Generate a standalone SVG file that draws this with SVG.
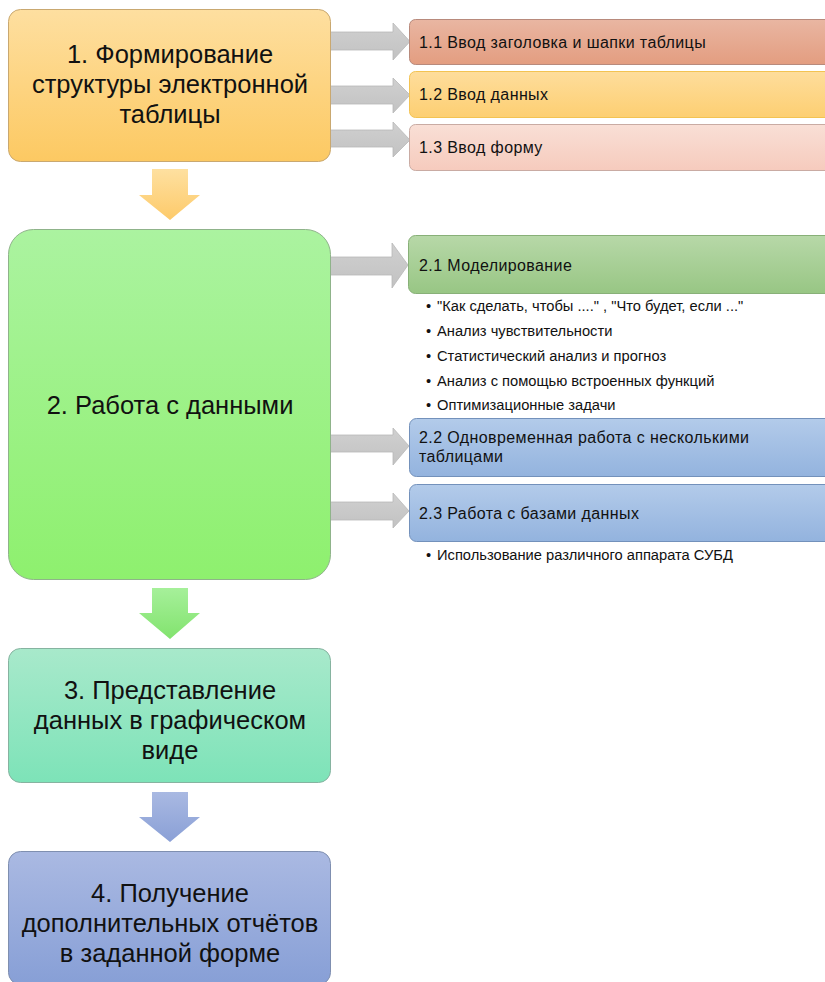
<svg xmlns="http://www.w3.org/2000/svg" width="825" height="982" viewBox="0 0 825 982">
<defs>
<linearGradient id="gOr" x1="0" y1="0" x2="0" y2="1"><stop offset="0" stop-color="#fedfa0"/><stop offset="1" stop-color="#fcc962"/></linearGradient>
<linearGradient id="gGr" x1="0" y1="0" x2="0" y2="1"><stop offset="0" stop-color="#abf3a0"/><stop offset="1" stop-color="#8ef06e"/></linearGradient>
<linearGradient id="gTe" x1="0" y1="0" x2="0" y2="1"><stop offset="0" stop-color="#a8e9cb"/><stop offset="1" stop-color="#7de3b8"/></linearGradient>
<linearGradient id="gBl" x1="0" y1="0" x2="0" y2="1"><stop offset="0" stop-color="#aab9e2"/><stop offset="1" stop-color="#879fd6"/></linearGradient>
<linearGradient id="g11" x1="0" y1="0" x2="0" y2="1"><stop offset="0" stop-color="#e9b6a2"/><stop offset="1" stop-color="#e39d80"/></linearGradient>
<linearGradient id="g12" x1="0" y1="0" x2="0" y2="1"><stop offset="0" stop-color="#fedd9c"/><stop offset="1" stop-color="#fdcf72"/></linearGradient>
<linearGradient id="g13" x1="0" y1="0" x2="0" y2="1"><stop offset="0" stop-color="#f9dfd6"/><stop offset="1" stop-color="#f6cbbd"/></linearGradient>
<linearGradient id="g21" x1="0" y1="0" x2="0" y2="1"><stop offset="0" stop-color="#b7d8a8"/><stop offset="1" stop-color="#98c684"/></linearGradient>
<linearGradient id="gLb" x1="0" y1="0" x2="0" y2="1"><stop offset="0" stop-color="#b3cbea"/><stop offset="1" stop-color="#93b3de"/></linearGradient>
<linearGradient id="gGray" x1="0" y1="0" x2="0" y2="1"><stop offset="0" stop-color="#d0d0d0"/><stop offset="1" stop-color="#c2c2c2"/></linearGradient>
<linearGradient id="aOr" x1="0" y1="0" x2="0" y2="1"><stop offset="0" stop-color="#fee0a0"/><stop offset="1" stop-color="#fdca6a"/></linearGradient>
<linearGradient id="aGr" x1="0" y1="0" x2="0" y2="1"><stop offset="0" stop-color="#a6f09a"/><stop offset="1" stop-color="#82e36e"/></linearGradient>
<linearGradient id="aBl" x1="0" y1="0" x2="0" y2="1"><stop offset="0" stop-color="#a9b9e2"/><stop offset="1" stop-color="#8aa0d6"/></linearGradient>
</defs>
<style>
text{font-family:"Liberation Sans",Arial,sans-serif;fill:#111;}
.big{font-size:25.5px;text-anchor:middle;}
.hd{font-size:16px;letter-spacing:0.4px;}
.sm{font-size:14.7px;}
.garrow{fill:url(#gGray);stroke:#b8b8b8;stroke-width:0.8;}
</style>
<g id="connectors">
<path class="garrow" d="M330,32 H393 V23 L410,41.5 L393,60 V50 H330 Z"/>
<path class="garrow" d="M330,86 H393 V78 L410,95 L393,113 V104 H330 Z"/>
<path class="garrow" d="M330,130 H393 V122 L410,140 L393,157 V147 H330 Z"/>
<path class="garrow" d="M330,257 H392 V243 L408,265 L392,288 V275 H330 Z"/>
<path class="garrow" d="M330,435 H393 V428 L409,446 L393,465 V452 H330 Z"/>
<path class="garrow" d="M330,502 H393 V493 L409,511 L393,528 V520 H330 Z"/>
<path d="M152,169 H188 V195 H200 L170,220 L139,195 H152 Z" fill="url(#aOr)"/>
<path d="M152,588 H188 V613 H200 L170,639 L139,613 H152 Z" fill="url(#aGr)"/>
<path d="M152,792 H188 V817 H200 L170,842 L139,817 H152 Z" fill="url(#aBl)"/>
</g>
<g id="n1">
<rect x="8.5" y="9.5" width="322" height="152" rx="12" fill="url(#gOr)" stroke="#c9a870"/>
<text class="big" x="170" y="63">1. Формирование</text>
<text class="big" x="170" y="93">структуры электронной</text>
<text class="big" x="170" y="123">таблицы</text>
</g>
<g id="n11">
<rect x="409.5" y="19.5" width="430" height="45" rx="6" fill="url(#g11)" stroke="#b88a7c"/>
<text class="hd" x="419" y="48">1.1 Ввод заголовка и шапки таблицы</text>
</g>
<g id="n12">
<rect x="409.5" y="71.5" width="430" height="46" rx="6" fill="url(#g12)" stroke="#f3c352"/>
<text class="hd" x="419" y="100">1.2 Ввод данных</text>
</g>
<g id="n13">
<rect x="409.5" y="124.5" width="430" height="46" rx="6" fill="url(#g13)" stroke="#c9aba3"/>
<text class="hd" x="419" y="153">1.3 Ввод форму</text>
</g>
<g id="n2">
<rect x="8.5" y="229.5" width="322" height="350" rx="25" fill="url(#gGr)" stroke="#8fb38a"/>
<text class="big" x="170" y="414">2. Работа с данными</text>
</g>
<g id="n21">
<rect x="408.5" y="235.5" width="430" height="58" rx="7" fill="url(#g21)" stroke="#88b078"/>
<text class="hd" x="419" y="271">2.1 Моделирование</text>
<text class="sm" x="426" y="311">•</text><text class="sm" x="437" y="311">"Как сделать, чтобы ...." , "Что будет, если ..."</text>
<text class="sm" x="426" y="336">•</text><text class="sm" x="437" y="336">Анализ чувствительности</text>
<text class="sm" x="426" y="361">•</text><text class="sm" x="437" y="361">Статистический анализ и прогноз</text>
<text class="sm" x="426" y="386">•</text><text class="sm" x="437" y="386">Анализ с помощью встроенных функций</text>
<text class="sm" x="426" y="410">•</text><text class="sm" x="437" y="410">Оптимизационные задачи</text>
</g>
<g id="n22">
<rect x="409.5" y="418.5" width="430" height="58" rx="7" fill="url(#gLb)" stroke="#7391bb"/>
<text class="hd" x="419" y="443">2.2 Одновременная работа с несколькими</text>
<text class="hd" x="419" y="462">таблицами</text>
</g>
<g id="n23">
<rect x="409.5" y="484.5" width="430" height="57" rx="7" fill="url(#gLb)" stroke="#7391bb"/>
<text class="hd" x="419" y="519">2.3 Работа с базами данных</text>
<text class="sm" x="426" y="560">•</text><text class="sm" x="437" y="560">Использование различного аппарата СУБД</text>
</g>
<g id="n3">
<rect x="8.5" y="648.5" width="322" height="134" rx="12" fill="url(#gTe)" stroke="#86b3a0"/>
<text class="big" x="170" y="699">3. Представление</text>
<text class="big" x="170" y="729">данных в графическом</text>
<text class="big" x="170" y="759">виде</text>
</g>
<g id="n4">
<rect x="8.5" y="851.5" width="322" height="133" rx="12" fill="url(#gBl)" stroke="#7f8fb0"/>
<text class="big" x="170" y="902">4. Получение</text>
<text class="big" x="170" y="932">дополнительных отчётов</text>
<text class="big" x="170" y="962">в заданной форме</text>
</g>
</svg>
